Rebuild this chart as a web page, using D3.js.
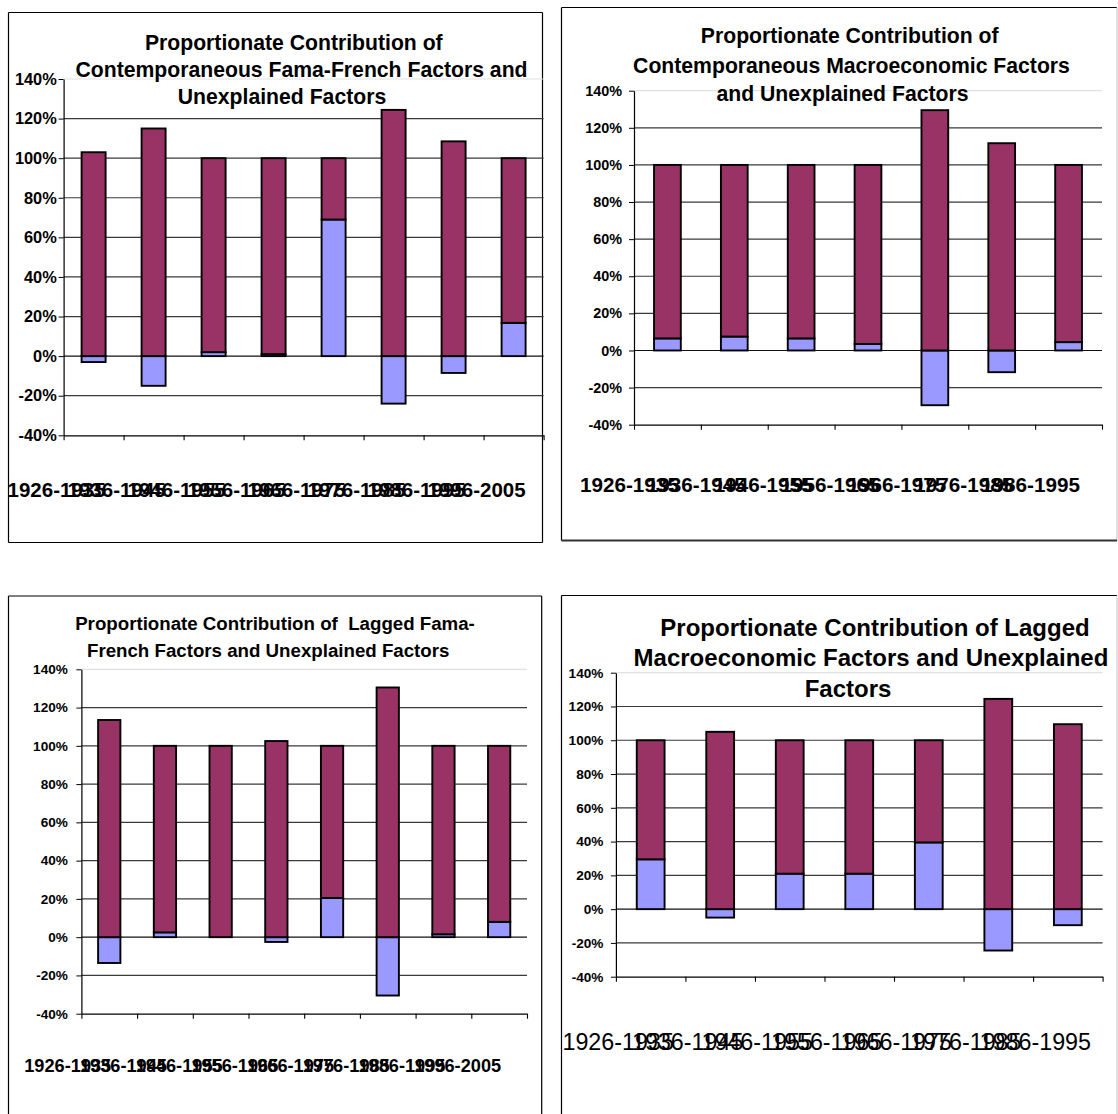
<!DOCTYPE html>
<html>
<head>
<meta charset="utf-8">
<script src="https://cdn.jsdelivr.net/npm/d3@7"></script>
<style>
  html, body { margin: 0; padding: 0; background: #fff; }
  svg { display: block; font-family: "Liberation Sans", Arial, Helvetica, sans-serif; }
</style>
</head>
<body>
<svg id="chart" width="1118" height="1114"></svg>
<script>
// Ten-year sub-periods
const periods = ["1926-1935", "1936-1945", "1946-1955", "1956-1965", "1966-1975", "1976-1985", "1986-1995", "1996-2005"];
const periodsTo1995 = periods.slice(0, 7);
const percentTicks = [-40, -20, 0, 20, 40, 60, 80, 100, 120, 140];

// Contemporaneous Fama-French factors (% of return variation)
const ffContempExplained   = [-3, -15, 2, 1, 69, -24, -8.5, 16.8];
const ffContempUnexplained = [103, 115, 98, 99, 31, 124.4, 108.5, 83.2];

// Contemporaneous macroeconomic factors
const macroContempExplained   = [6.5, 7.5, 6.5, 3.5, -29.5, -11.7, 4.5];
const macroContempUnexplained = [93.5, 92.5, 93.5, 96.5, 129.5, 111.7, 95.5];

// Lagged Fama-French factors
const ffLaggedExplained   = [-13.5, 2.5, 0, -2.5, 20.5, -30.5, 1.5, 8];
const ffLaggedUnexplained = [113.5, 97.5, 100, 102.5, 79.5, 130.5, 98.5, 92];

// Lagged macroeconomic factors
const macroLaggedExplained   = [29.5, -5, 21, 21, 39.5, -24.5, -9.5];
const macroLaggedUnexplained = [70.5, 105, 79, 79, 60.5, 124.5, 109.5];

// Chart titles, one entry per printed line
const titleFfContemp    = ["Proportionate Contribution of", "Contemporaneous Fama-French Factors and", "Unexplained Factors"];
const titleMacroContemp = ["Proportionate Contribution of", "Contemporaneous Macroeconomic Factors", "and Unexplained Factors"];
const titleFfLagged     = ["Proportionate Contribution of  Lagged Fama-", "French Factors and Unexplained Factors"];
const titleMacroLagged  = ["Proportionate Contribution of Lagged", "Macroeconomic Factors and Unexplained", "Factors"];

const seriesKeys = ["explained", "unexplained"];
const seriesColor = { explained: "#9999ff", unexplained: "#993366" };

const svg = d3.select("#chart");

const panels = [
  {
    cats: periods, explained: ffContempExplained, unexplained: ffContempUnexplained, title: titleFfContemp,
    box: { x0: 8.5, y0: 12.5, x1: 542.5, y1: 542.5 },
    sides: { top: "#000", left: "#000", right: "#000", bottom: "#000" },
    plot: { x0: 63.6, x1: 543.6, yTop: 79, yBottom: 435.3 },
    titleSize: 21.2, titlePos: [[293.8, 50], [301.5, 77.3], [282, 104]],
    tickFont: 16.4, tickPad: 1.8,
    labelFont: 20.5, labelWeight: "bold", labelY: 497.3, labelShift: -37
  },
  {
    cats: periodsTo1995, explained: macroContempExplained, unexplained: macroContempUnexplained, title: titleMacroContemp,
    box: { x0: 561.5, y0: 7.5, x1: 1117, y1: 540.5 },
    sides: { top: "#000", left: "#000", right: "#cfcfcf", bottom: "#333" },
    plot: { x0: 634, x1: 1102, yTop: 90.7, yBottom: 424.7 },
    titleSize: 21.2, titlePos: [[849.7, 43.3], [851.5, 72.7], [842.5, 101]],
    tickFont: 14.4, tickPad: 7,
    labelFont: 20.7, labelWeight: "bold", labelY: 492, labelShift: -38
  },
  {
    cats: periods, explained: ffLaggedExplained, unexplained: ffLaggedUnexplained, title: titleFfLagged,
    box: { x0: 8.5, y0: 596, x1: 541.7, y1: 1130 },
    sides: { top: "#000", left: "#000", right: "#000", bottom: null },
    plot: { x0: 81.4, x1: 527, yTop: 669.3, yBottom: 1013.7 },
    titleSize: 18.7, titlePos: [[275, 630], [268.2, 657.3]],
    tickFont: 13.6, tickPad: 8.5,
    labelFont: 18.2, labelWeight: "bold", labelY: 1072, labelShift: -41.5
  },
  {
    cats: periodsTo1995, explained: macroLaggedExplained, unexplained: macroLaggedUnexplained, title: titleMacroLagged,
    box: { x0: 561.5, y0: 595.5, x1: 1117, y1: 1130 },
    sides: { top: "#000", left: "#000", right: "#cfcfcf", bottom: null },
    plot: { x0: 615.9, x1: 1102.6, yTop: 672.7, yBottom: 976.7 },
    titleSize: 24, titlePos: [[875, 635.7], [871, 666], [848, 697.3]],
    tickFont: 13.6, tickPad: 7.5,
    labelFont: 23.3, labelWeight: "normal", labelY: 1049.7, labelShift: -32.5
  }
];

panels.forEach(p => {
  const g = svg.append("g");
  const { box, plot } = p;

  // Chart frame, side by side so each edge can carry its own tone
  const edges = [
    ["top", box.x0, box.y0, box.x1, box.y0],
    ["left", box.x0, box.y0, box.x0, box.y1],
    ["right", box.x1, box.y0, box.x1, box.y1],
    ["bottom", box.x0, box.y1, box.x1, box.y1]
  ];
  edges.forEach(([side, x1, y1, x2, y2]) => {
    if (!p.sides[side]) return;
    g.append("line")
      .attr("x1", x1).attr("y1", y1).attr("x2", x2).attr("y2", y2)
      .attr("stroke", p.sides[side])
      .attr("stroke-width", side === "bottom" && p.sides[side] === "#333" ? 2 : 1.2);
  });

  // Scales
  const x = d3.scaleBand().domain(p.cats).range([plot.x0, plot.x1]).paddingInner(0).paddingOuter(0);
  const y = d3.scaleLinear().domain([-40, 140]).range([plot.yBottom, plot.yTop]);
  const barW = x.bandwidth() / 2.5;

  // Horizontal gridlines
  g.append("g").selectAll("line")
    .data(percentTicks.filter(t => t > -40))
    .join("line")
    .attr("x1", plot.x0).attr("x2", plot.x1)
    .attr("y1", d => y(d)).attr("y2", d => y(d))
    .attr("stroke", d => d === 140 ? "#e2e2e2" : (d === 0 ? "#111" : "#3a3a3a"))
    .attr("stroke-width", 1.2);

  // Stacked columns: positives grow up from 0, negatives down from 0
  const rows = p.cats.map((c, i) => ({ period: c, explained: p.explained[i], unexplained: p.unexplained[i] }));
  const stacked = d3.stack().keys(seriesKeys).offset(d3.stackOffsetDiverging)(rows);

  stacked.forEach(s => {
    g.append("g").selectAll("rect")
      .data(s)
      .join("rect")
      .attr("x", d => x(d.data.period) + (x.bandwidth() - barW) / 2)
      .attr("width", barW)
      .attr("y", d => y(Math.max(d[0], d[1])))
      .attr("height", d => Math.abs(y(d[0]) - y(d[1])))
      .attr("fill", seriesColor[s.key])
      .attr("stroke", "#000")
      .attr("stroke-width", 1.9);
  });

  // Value axis
  const yAxis = d3.axisLeft(y)
    .tickValues(percentTicks)
    .tickFormat(d => d + "%")
    .tickSize(5)
    .tickSizeOuter(0)
    .tickPadding(p.tickPad);
  const yg = g.append("g").attr("transform", `translate(${plot.x0},0)`).call(yAxis);
  yg.select(".domain").attr("stroke", "#000").attr("stroke-width", 1.2);
  yg.selectAll(".tick line").attr("stroke", "#000");
  yg.selectAll(".tick text")
    .attr("fill", "#000")
    .style("font-family", '"Liberation Sans", Arial, sans-serif')
    .style("font-size", p.tickFont + "px")
    .style("font-weight", "bold");

  // Category axis with tick marks at period boundaries
  const boundary = d3.scaleLinear().domain([0, p.cats.length]).range([plot.x0, plot.x1]);
  const xAxis = d3.axisBottom(boundary)
    .tickValues(d3.range(p.cats.length + 1))
    .tickFormat("")
    .tickSize(5)
    .tickSizeOuter(0);
  const xg = g.append("g").attr("transform", `translate(0,${y(-40)})`).call(xAxis);
  xg.select(".domain").attr("stroke", "#000").attr("stroke-width", 1.2);
  xg.selectAll(".tick line").attr("stroke", "#000").attr("stroke-width", 1.1);

  // Period labels (they run into each other, as printed)
  g.append("g").selectAll("text")
    .data(p.cats)
    .join("text")
    .attr("x", d => x(d) + x.bandwidth() / 2 + p.labelShift)
    .attr("y", p.labelY)
    .attr("text-anchor", "middle")
    .attr("fill", "#000")
    .style("font-size", p.labelFont + "px")
    .style("font-weight", p.labelWeight)
    .text(d => d);

  // Title
  g.append("g").selectAll("text")
    .data(p.title)
    .join("text")
    .attr("x", (d, i) => p.titlePos[i][0])
    .attr("y", (d, i) => p.titlePos[i][1])
    .attr("text-anchor", "middle")
    .attr("fill", "#000")
    .style("white-space", "pre")
    .style("font-size", p.titleSize + "px")
    .style("font-weight", "bold")
    .text(d => d);
});
</script>
</body>
</html>
